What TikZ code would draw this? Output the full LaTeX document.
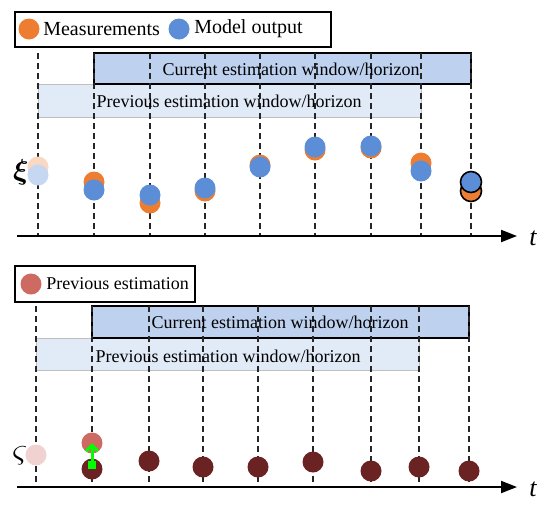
\documentclass[tikz,border=0pt]{standalone}
\usepackage{amsmath}
\usepackage{fontspec}
\setmainfont{Liberation Serif}
\usetikzlibrary{positioning,arrows.meta}

\definecolor{meas}{HTML}{ED7D31}
\definecolor{model}{HTML}{5B8ED6}
\definecolor{prevest}{HTML}{CD6B62}
\definecolor{curest}{HTML}{6B2222}
\definecolor{curwin}{HTML}{BED1EE}
\definecolor{prevwin}{HTML}{E1EAF7}

\begin{document}
\begin{tikzpicture}[x=0.5pt,y=-0.5pt]
        \tikzset{
            dot/.style={circle, inner sep=0pt, minimum size=10.5pt},
            legtxt/.style={anchor=west, inner sep=0pt, font=\fontsize{10}{12}\selectfont},
            wintxt/.style={inner sep=0pt, font=\fontsize{9}{11}\selectfont},
            curbox/.style={fill=curwin, draw=black, line width=0.8pt},
            prevbox/.style={fill=prevwin, draw=black!25, line width=0.5pt},
            grid/.style={black!85, line width=0.6pt, dash pattern=on 3pt off 2pt},
            axis/.style={line width=1pt, -{Triangle[length=8pt,width=6pt]}},
            corr/.style={green, line width=1.5pt, {Square[length=4pt,width=4pt]}-{Straight Barb[length=3pt,width=6pt]}}
        }
        \useasboundingbox (0,0) rectangle (550,510);

        % upper panel: measurements and model output
        \draw[line width=0.6pt] (15,12) rectangle (331,47);
        \node[dot, fill=meas] (lm) at (29,29) {};
        \node[legtxt, right=1.5pt of lm] (lmt) {Measurements};
        \node[dot, fill=model] (lo) at (179,29) {};
        \node[legtxt, right=2pt of lo] (lot) {Model output};

        \draw[prevbox] (38,84) rectangle (421,117);
        \draw[curbox] (94,53) rectangle (471,84);
        \foreach \x in {38,94,150,205,260,315,371,421,471}
            \draw[grid] (\x,53) -- (\x,236);
        \node[wintxt] (cwa) at (291,69) {Current estimation window/horizon};
        \node[wintxt] (pwa) at (229,101) {Previous estimation window/horizon};

        \coordinate (ta0) at (17,236);
        \coordinate (ta1) at (517,236);
        \draw[axis] (ta0) -- (ta1);
        \node[font=\fontsize{13}{13}\selectfont\itshape] (tla) at (533,238) {t};
        \node[font=\Large] (ksi) at (21,172) {$\boldsymbol{\xi}$};

        \node[dot, fill=meas!30] (m1) at (38,167) {};
        \node[dot, fill=model!35] (o1) at (38,175) {};
        \foreach \x/\ym/\yo [count=\i from 2] in {94/182/190, 150/203/195, 205/191/188, 260/165/167, 315/150/147, 371/148/146, 421/163/171} {
            \node[dot, fill=meas] (m\i) at (\x,\ym) {};
            \node[dot, fill=model] (o\i) at (\x,\yo) {};
        }
        \node[dot, fill=meas, draw=black, line width=0.8pt] (m9) at (471,191) {};
        \node[dot, fill=model, draw=black, line width=0.8pt] (o9) at (471,182) {};

        % lower panel: previous estimation
        \draw[line width=0.6pt] (15,266) rectangle (195,302);
        \node[dot, fill=prevest] (lp) at (31,284) {};
        \node[legtxt, right=2pt of lp, font=\fontsize{9}{11}\selectfont] (lpt) {Previous estimation};

        \draw[prevbox] (36,338) rectangle (419,370);
        \draw[curbox] (92,306) rectangle (469,338);
        \foreach \x in {36,92,149,203,258,313,371,419,469}
            \draw[grid] (\x,306) -- (\x,487);
        \node[wintxt] (cwb) at (280,322) {Current estimation window/horizon};
        \node[wintxt] (pwb) at (228,356) {Previous estimation window/horizon};

        \coordinate (tb0) at (17,487);
        \coordinate (tb1) at (517,487);
        \draw[axis] (tb0) -- (tb1);
        \node[font=\fontsize{13}{13}\selectfont\itshape] (tlb) at (533,489) {t};
        \node[font=\LARGE] (vsig) at (20,456) {$\varsigma$};

        \node[dot, fill=prevest!30] (p1) at (36,455) {};
        \node[dot, fill=prevest] (p2) at (92,443) {};
        \foreach \x/\y [count=\i from 2] in {92/469, 149/461, 203/467, 258/467, 313/462, 371/471, 419/467, 469/471}
            \node[dot, fill=curest] (e\i) at (\x,\y) {};
        \draw[corr] (e2.center) -- (p2.center);
\end{tikzpicture}
\end{document}
